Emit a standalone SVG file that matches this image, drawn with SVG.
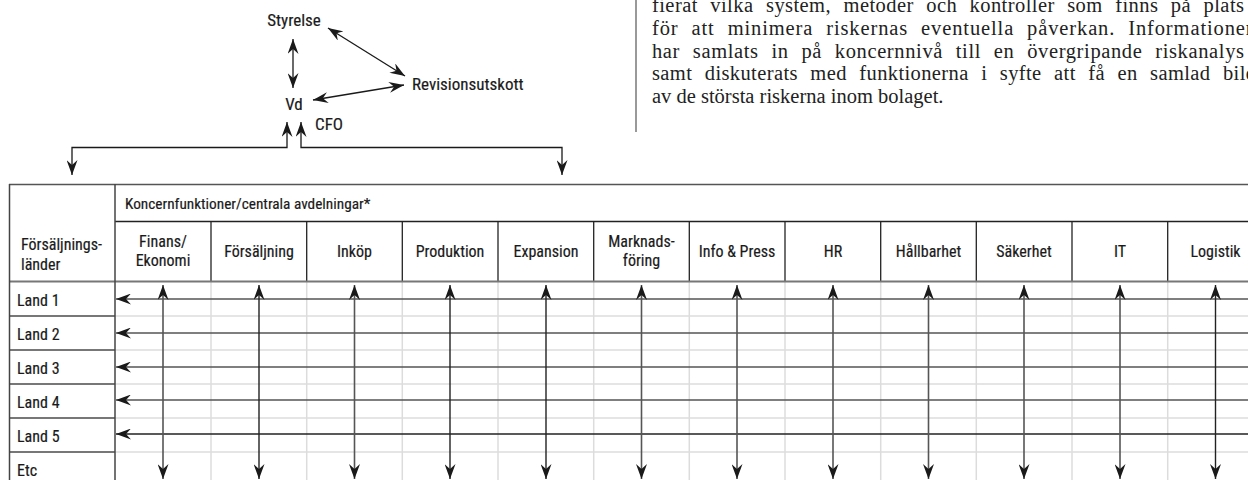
<svg xmlns="http://www.w3.org/2000/svg" width="1248" height="480" viewBox="0 0 1248 480">
<defs>
<style>
.s{font-family:"Liberation Sans Narrow","Roboto Condensed","Liberation Sans",sans-serif;font-size:16px;fill:#1a1a1a;stroke:#1a1a1a;stroke-width:0.18}
.o{font-family:"Liberation Sans Narrow","Roboto Condensed","Liberation Sans",sans-serif;font-size:17px;fill:#1a1a1a;stroke:#1a1a1a;stroke-width:0.18}
.c{text-anchor:middle}
.body{font-family:"Liberation Serif","Times New Roman",serif;font-size:20.5px;fill:#222}
.j{word-spacing:7px}
.ln{fill:none;stroke:#1a1a1a;stroke-width:1.3}
.ga{fill:none;stroke:#555;stroke-width:1.6}
.da{fill:none;stroke:#222;stroke-width:1.4}
.lg{stroke:#dcdcdc;stroke-width:1.5}
.gb{stroke:#777;stroke-width:2}
.bk{stroke:#222;stroke-width:1.3}
</style>
<marker id="ah" viewBox="0 0 15 11" refX="15" refY="5.5" markerWidth="15" markerHeight="11" markerUnits="userSpaceOnUse" orient="auto-start-reverse">
<path d="M0,0 L15,5.5 L0,11 L5,5.5 Z" fill="#1a1a1a"/>
</marker>
</defs>
<rect width="1248" height="480" fill="#fff"/>

<g id="intro-text">
<line x1="636" y1="0" x2="636" y2="132" stroke="#555" stroke-width="1.2"/>
<text class="body j" x="652" y="11.5" textLength="592" lengthAdjust="spacing">fierat vilka system, metoder och kontroller som finns på plats</text>
<text class="body j" x="652" y="35" textLength="604" lengthAdjust="spacing">för att minimera riskernas eventuella påverkan. Informationen</text>
<text class="body j" x="652" y="57.5" textLength="592" lengthAdjust="spacing">har samlats in på koncernnivå till en övergripande riskanalys</text>
<text class="body j" x="652" y="80" textLength="604" lengthAdjust="spacing">samt diskuterats med funktionerna i syfte att få en samlad bild</text>
<text class="body" x="652" y="102.5">av de största riskerna inom bolaget.</text>
</g>

<g id="node-styrelse"><text class="o c" x="294" y="26">Styrelse</text></g>
<g id="node-revisionsutskott"><text class="o" x="412" y="90">Revisionsutskott</text></g>
<g id="node-vd"><text class="o c" x="294" y="110">Vd</text></g>
<g id="node-cfo"><text class="o" x="315" y="130">CFO</text></g>

<g id="table-grid">
<g class="lg">
<line x1="211" y1="282" x2="211" y2="480"/><line x1="306.7" y1="282" x2="306.7" y2="480"/>
<line x1="402.3" y1="282" x2="402.3" y2="480"/><line x1="498" y1="282" x2="498" y2="480"/>
<line x1="593.7" y1="282" x2="593.7" y2="480"/><line x1="689.3" y1="282" x2="689.3" y2="480"/>
<line x1="785" y1="282" x2="785" y2="480"/><line x1="880.7" y1="282" x2="880.7" y2="480"/>
<line x1="976.3" y1="282" x2="976.3" y2="480"/><line x1="1072" y1="282" x2="1072" y2="480"/>
<line x1="1167.7" y1="282" x2="1167.7" y2="480"/>
<line x1="115" y1="316" x2="1248" y2="316"/><line x1="115" y1="350" x2="1248" y2="350"/>
<line x1="115" y1="384" x2="1248" y2="384"/><line x1="115" y1="418" x2="1248" y2="418"/>
<line x1="115" y1="452" x2="1248" y2="452"/>
</g>
<line x1="9" y1="184.5" x2="1248" y2="184.5" stroke="#555" stroke-width="1.5"/>
<line x1="115" y1="221.5" x2="1248" y2="221.5" class="bk"/>
<g class="bk">
<line x1="211" y1="221" x2="211" y2="281"/><line x1="306.7" y1="221" x2="306.7" y2="281"/>
<line x1="402.3" y1="221" x2="402.3" y2="281"/><line x1="498" y1="221" x2="498" y2="281"/>
<line x1="593.7" y1="221" x2="593.7" y2="281"/><line x1="689.3" y1="221" x2="689.3" y2="281"/>
<line x1="785" y1="221" x2="785" y2="281"/><line x1="880.7" y1="221" x2="880.7" y2="281"/>
<line x1="976.3" y1="221" x2="976.3" y2="281"/><line x1="1072" y1="221" x2="1072" y2="281"/>
<line x1="1167.7" y1="221" x2="1167.7" y2="281"/>
</g>
<line x1="9" y1="281.5" x2="1248" y2="281.5" class="gb"/>
<g class="gb">
<line x1="9" y1="316" x2="115" y2="316"/><line x1="9" y1="350" x2="115" y2="350"/>
<line x1="9" y1="384" x2="115" y2="384"/><line x1="9" y1="418" x2="115" y2="418"/>
<line x1="9" y1="452" x2="115" y2="452"/>
</g>
<line x1="9.5" y1="184" x2="9.5" y2="480" stroke="#444" stroke-width="1.5"/>
<line x1="115" y1="184" x2="115" y2="480" stroke="#444" stroke-width="1.5"/>
</g>

<g id="header-koncern"><text class="s" x="125" y="209" style="font-size:15.3px">Koncernfunktioner/centrala avdelningar*</text></g>
<g id="header-lander"><text class="s" x="21" y="250">Försäljnings-</text><text class="s" x="21" y="270">länder</text></g>

<g id="col-finans"><text class="s c" x="163" y="247">Finans/</text><text class="s c" x="163" y="266">Ekonomi</text></g>
<g id="col-forsaljning"><text class="s c" x="259" y="257">Försäljning</text></g>
<g id="col-inkop"><text class="s c" x="354.5" y="257">Inköp</text></g>
<g id="col-produktion"><text class="s c" x="450" y="257">Produktion</text></g>
<g id="col-expansion"><text class="s c" x="546" y="257">Expansion</text></g>
<g id="col-marknadsforing"><text class="s c" x="641.5" y="247">Marknads-</text><text class="s c" x="641.5" y="266">föring</text></g>
<g id="col-info"><text class="s c" x="737" y="257">Info &amp; Press</text></g>
<g id="col-hr"><text class="s c" x="833" y="257">HR</text></g>
<g id="col-hallbarhet"><text class="s c" x="928.5" y="257">Hållbarhet</text></g>
<g id="col-sakerhet"><text class="s c" x="1024" y="257">Säkerhet</text></g>
<g id="col-it"><text class="s c" x="1120" y="257">IT</text></g>
<g id="col-logistik"><text class="s c" x="1215.5" y="257">Logistik</text></g>

<g id="row-land1"><text class="s" x="17" y="306">Land 1</text></g>
<g id="row-land2"><text class="s" x="17" y="340">Land 2</text></g>
<g id="row-land3"><text class="s" x="17" y="374">Land 3</text></g>
<g id="row-land4"><text class="s" x="17" y="408">Land 4</text></g>
<g id="row-land5"><text class="s" x="17" y="442">Land 5</text></g>
<g id="row-etc"><text class="s" x="17" y="476">Etc</text></g>

<g id="connectors">
<line class="ln" x1="293" y1="39" x2="293" y2="88" marker-start="url(#ah)" marker-end="url(#ah)"/>
<line class="ln" x1="328" y1="28" x2="405" y2="76" marker-start="url(#ah)" marker-end="url(#ah)"/>
<line class="ln" x1="313" y1="100" x2="404" y2="85" marker-start="url(#ah)" marker-end="url(#ah)"/>
<polyline class="ln" points="287,122 287,147.5 72,147.5 72,175" marker-start="url(#ah)" marker-end="url(#ah)"/>
<polyline class="ln" points="301,122 301,147.5 562,147.5 562,175" marker-start="url(#ah)" marker-end="url(#ah)"/>

<g class="ga">
<line x1="1248" y1="299" x2="116" y2="299" marker-end="url(#ah)"/>
<line x1="1248" y1="333" x2="116" y2="333" marker-end="url(#ah)"/>
<line x1="1248" y1="367" x2="116" y2="367" marker-end="url(#ah)"/>
<line x1="1248" y1="400" x2="116" y2="400" marker-end="url(#ah)"/>
</g>
<line class="da" x1="1248" y1="434" x2="116" y2="434" marker-end="url(#ah)"/>

<g class="ga">
<line x1="163" y1="285" x2="163" y2="479" marker-start="url(#ah)" marker-end="url(#ah)"/>
<line x1="354.5" y1="285" x2="354.5" y2="479" marker-start="url(#ah)" marker-end="url(#ah)"/>
<line x1="641.5" y1="285" x2="641.5" y2="479" marker-start="url(#ah)" marker-end="url(#ah)"/>
<line x1="737" y1="285" x2="737" y2="479" marker-start="url(#ah)" marker-end="url(#ah)"/>
<line x1="833" y1="285" x2="833" y2="479" marker-start="url(#ah)" marker-end="url(#ah)"/>
<line x1="928.5" y1="285" x2="928.5" y2="479" marker-start="url(#ah)" marker-end="url(#ah)"/>
<line x1="1024" y1="285" x2="1024" y2="479" marker-start="url(#ah)" marker-end="url(#ah)"/>
<line x1="1120" y1="285" x2="1120" y2="479" marker-start="url(#ah)" marker-end="url(#ah)"/>
</g>
<g class="da">
<line x1="259" y1="285" x2="259" y2="479" marker-start="url(#ah)" marker-end="url(#ah)"/>
<line x1="450" y1="285" x2="450" y2="479" marker-start="url(#ah)" marker-end="url(#ah)"/>
<line x1="546" y1="285" x2="546" y2="479" marker-start="url(#ah)" marker-end="url(#ah)"/>
<line x1="1215.5" y1="285" x2="1215.5" y2="479" marker-start="url(#ah)" marker-end="url(#ah)"/>
</g>
</g>
</svg>
